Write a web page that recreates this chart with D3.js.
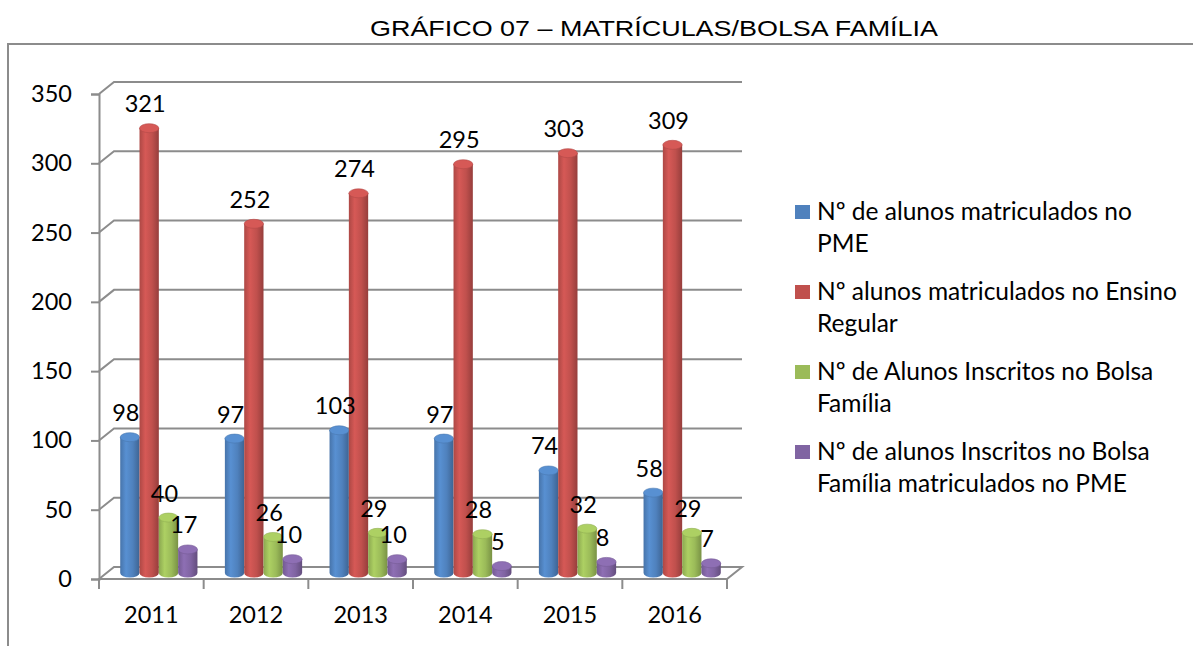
<!DOCTYPE html>
<html lang="pt">
<head>
<meta charset="UTF-8">
<title>Gráfico 07 – Matrículas/Bolsa Família</title>
<script src="https://cdn.jsdelivr.net/npm/d3@7"></script>
<style>
    body { margin: 0; background: #fff; }
    svg { display: block; }
    text { font-family: Lato, "Open Sans", sans-serif; fill: #000; }
</style>
</head>
<body>
<div id="chart"></div>
<script>
// data
var years = ["2011", "2012", "2013", "2014", "2015", "2016"];
var alunosPme = [98, 97, 103, 97, 74, 58];
var alunosRegular = [321, 252, 274, 295, 303, 309];
var alunosBolsa = [40, 26, 29, 28, 32, 29];
var alunosBolsaPme = [17, 10, 10, 5, 8, 7];
var seriesNames = [
    ["Nº de alunos matriculados no", "PME"],
    ["Nº alunos matriculados no Ensino", "Regular"],
    ["Nº de Alunos Inscritos no Bolsa", "Família"],
    ["Nº de alunos Inscritos no Bolsa", "Família matriculados no PME"]
];
var seriesColors = ["#4F81BD", "#C0504D", "#9BBB59", "#8064A2"];
var yTicks = [0, 50, 100, 150, 200, 250, 300, 350];

var series = [alunosPme, alunosRegular, alunosBolsa, alunosBolsaPme];

var W = 1193, H = 646;
var depthX = 15, depthY = -12;   // 3d wall offset
var fontSize = "23.5px";

var svg = d3.select("#chart").append("svg")
    .attr("width", W)
    .attr("height", H);

var defs = svg.append("defs");

// cylinder shading
seriesColors.forEach(function (c, i) {
    var base = d3.rgb(c);
    var g = defs.append("linearGradient")
        .attr("id", "cyl" + i)
        .attr("x1", "0").attr("x2", "1").attr("y1", "0").attr("y2", "0");
    g.append("stop").attr("offset", "0%").attr("stop-color", base.darker(0.3));
    g.append("stop").attr("offset", "30%").attr("stop-color", base.brighter(0.3));
    g.append("stop").attr("offset", "65%").attr("stop-color", base);
    g.append("stop").attr("offset", "100%").attr("stop-color", base.darker(0.7));
});

// outer frame
svg.append("rect")
    .attr("x", 8).attr("y", 44)
    .attr("width", 1300).attr("height", 700)
    .attr("fill", "none")
    .attr("stroke", "#8c8c8c")
    .attr("stroke-width", 2);

// title
svg.append("text")
    .attr("x", 654).attr("y", 36)
    .attr("text-anchor", "middle")
    .style("font-family", "'Liberation Sans', Arial, sans-serif")
    .style("font-size", "22px")
    .attr("textLength", 568)
    .attr("lengthAdjust", "spacingAndGlyphs")
    .text("GRÁFICO 07 – MATRÍCULAS/BOLSA FAMÍLIA");

// scales
var x = d3.scaleBand().domain(years).range([99, 727]);
var xSub = d3.scaleBand().domain(d3.range(series.length))
    .range([0, x.bandwidth()])
    .paddingOuter(0.71);
var y = d3.scaleLinear().domain([0, 350]).range([579, 94]);

var gridColor = "#8c8c8c";

// back wall gridlines
var grid = svg.append("g");
grid.selectAll(".gl")
    .data(yTicks.filter(function (d) { return d > 0; }))
    .enter().append("path")
    .attr("fill", "none")
    .attr("stroke", gridColor)
    .attr("stroke-width", 2)
    .attr("d", function (d) {
        var yy = y(d);
        return "M" + 99 + "," + yy + "L" + (99 + depthX) + "," + (yy + depthY) +
            "L" + (727 + depthX) + "," + (yy + depthY);
    });

// floor
var x0 = x.range()[0], x1 = x.range()[1], yb = y(0);
svg.append("path")
    .attr("fill", "none")
    .attr("stroke", gridColor)
    .attr("stroke-width", 2)
    .attr("d", "M" + x0 + "," + yb + "L" + (x0 + depthX) + "," + (yb + depthY) +
        "L" + (x1 + depthX) + "," + (yb + depthY) + "L" + x1 + "," + yb + "Z");

// y axis
var yAxis = svg.append("g")
    .attr("transform", "translate(" + x0 + ",0)")
    .call(d3.axisLeft(y).tickValues(yTicks).tickSize(8).tickPadding(19));
yAxis.select(".domain").attr("stroke", gridColor).attr("stroke-width", 2);
yAxis.selectAll(".tick line").attr("stroke", gridColor).attr("stroke-width", 2);
yAxis.selectAll(".tick text")
    .style("font-family", "Lato, sans-serif")
    .style("font-size", fontSize)
    .attr("fill", "#000");

// x axis
var xAxis = svg.append("g")
    .attr("transform", "translate(0," + yb + ")")
    .call(d3.axisBottom(x).tickSize(0).tickPadding(27));
xAxis.select(".domain").remove();
xAxis.selectAll(".tick text")
    .style("font-family", "Lato, sans-serif")
    .style("font-size", fontSize)
    .attr("fill", "#000");
// category separators
xAxis.selectAll(".sep")
    .data(d3.range(years.length + 1))
    .enter().append("line")
    .attr("x1", function (i) { return x0 + i * x.step(); })
    .attr("x2", function (i) { return x0 + i * x.step(); })
    .attr("y1", 0).attr("y2", 10)
    .attr("stroke", gridColor)
    .attr("stroke-width", 2);

// cylinders
var rx = xSub.bandwidth() / 2, ry = 4.5;
var barsG = svg.append("g")
    .attr("transform", "translate(" + depthX / 2 + "," + depthY / 2 + ")");

series.forEach(function (vals, si) {
    var g = barsG.append("g");
    var cyl = g.selectAll(".cyl")
        .data(vals)
        .enter().append("g")
        .attr("class", "cyl");
    var cx = function (d, i) { return x(years[i]) + xSub(si) + rx; };
    cyl.append("path")
        .attr("fill", "url(#cyl" + si + ")")
        .attr("d", function (d, i) {
            var c = cx(d, i), top = y(d), bot = y(0);
            return "M" + (c - rx) + "," + top +
                "L" + (c - rx) + "," + bot +
                "A" + rx + "," + ry + " 0 0 0 " + (c + rx) + "," + bot +
                "L" + (c + rx) + "," + top + "Z";
        });
    cyl.append("ellipse")
        .attr("cx", cx)
        .attr("cy", function (d) { return y(d); })
        .attr("rx", rx).attr("ry", ry)
        .attr("fill", d3.rgb(seriesColors[si]).brighter(0.3))
        .attr("stroke", d3.rgb(seriesColors[si]).darker(0.2))
        .attr("stroke-width", 0.6);
});

// data labels
series.forEach(function (vals, si) {
    svg.append("g").selectAll(".lbl")
        .data(vals)
        .enter().append("text")
        .attr("x", function (d, i) { return x(years[i]) + xSub(si) + rx + depthX / 2 - 4; })
        .attr("y", function (d) { return y(d) - 22; })
        .attr("text-anchor", "middle")
        .style("font-size", fontSize)
        .text(function (d) { return d; });
});

// legend
var legend = svg.append("g");
var legendTop = 212, legendStep = 80;
seriesNames.forEach(function (lines, i) {
    var ly = legendTop + i * legendStep;
    legend.append("rect")
        .attr("x", 795).attr("y", ly - 7)
        .attr("width", 15).attr("height", 14)
        .attr("fill", seriesColors[i]);
    var t = legend.append("text")
        .attr("x", 817).attr("y", ly + 8)
        .style("font-size", "24.5px");
    lines.forEach(function (s, k) {
        t.append("tspan")
            .attr("x", 817)
            .attr("dy", k === 0 ? 0 : 32)
            .text(s);
    });
});
</script>
</body>
</html>
